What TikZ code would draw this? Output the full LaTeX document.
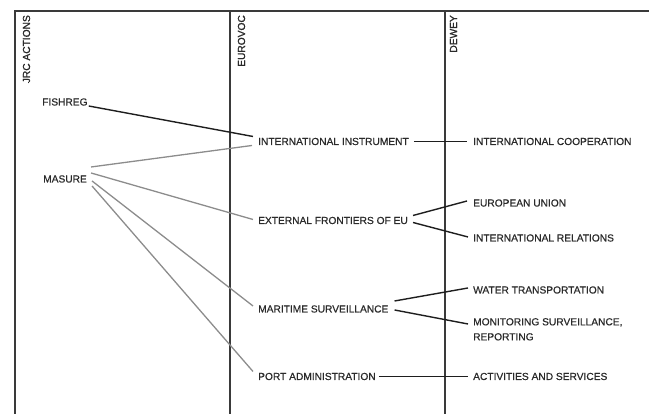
\documentclass[tikz,border=0pt]{standalone}
\usepackage{fontspec}
\setmainfont{Liberation Sans}
\newfontfamily\lblfont[FakeBold=0.6]{Liberation Sans}
\newfontfamily\hdrfont[FakeBold=1.2]{Liberation Sans}
\usetikzlibrary{calc}
\definecolor{framec}{HTML}{3A3A3A}
\definecolor{textc}{HTML}{2A2A2A}
\definecolor{darkline}{HTML}{1E1E1E}
\definecolor{greyline}{HTML}{8C8C8C}
\begin{document}
\begin{tikzpicture}[x=1pt,y=-1pt,
  lbl/.style={font=\lblfont\fontsize{10.2}{15}\selectfont, text=textc, inner sep=0pt, anchor=base west},
  hdr/.style={font=\hdrfont\fontsize{10.2}{12}\selectfont, text=textc, inner sep=0pt, rotate=90, anchor=base east},
  frameline/.style={draw=framec, line width=1.8pt},
  darkconn/.style={draw=darkline, line width=1.4pt},
  greyconn/.style={draw=greyline, line width=1.3pt}]
\useasboundingbox (0,0) rectangle (649,414);
% frame and columns
\draw[frameline] (15,414) -- (15,11) -- (649,11);
\draw[frameline] (230,11) -- (230,414);
\draw[frameline] (445,11) -- (445,414);
% headers
\node[hdr] (hjrc) at (30,15) {JRC ACTIONS};
\node[hdr] (heuro) at (245,15) {EUROVOC};
\node[hdr] (hdewey) at (457,15) {DEWEY};
% JRC actions
\node[lbl] (fishreg) at (42,105.5) {FISHREG};
\node[lbl] (masure) at (43,182.5) {MASURE};
% Eurovoc
\node[lbl] (ii) at (258,145) {INTERNATIONAL INSTRUMENT};
\node[lbl] (ef) at (258,224) {EXTERNAL FRONTIERS OF EU};
\node[lbl] (ms) at (258,312.5) {MARITIME SURVEILLANCE};
\node[lbl] (pa) at (258,380) {PORT ADMINISTRATION};
% Dewey
\node[lbl] (ic) at (473,145) {INTERNATIONAL COOPERATION};
\node[lbl] (eu) at (473,206.5) {EUROPEAN UNION};
\node[lbl] (ir) at (473,241.5) {INTERNATIONAL RELATIONS};
\node[lbl] (wt) at (473,293.5) {WATER TRANSPORTATION};
\node[lbl, anchor=north west, align=left] (mon) at (473,318) {MONITORING SURVEILLANCE,\\REPORTING};
\node[lbl] (ac) at (473,380) {ACTIVITIES AND SERVICES};
% JRC -> Eurovoc
\draw[darkconn] ($(fishreg.east)+(1,4)$) -- ($(ii.west)+(-5,-5)$);
\draw[greyconn] ($(masure.east)+(4,-12)$) -- ($(ii.west)+(-6,4)$);
\draw[greyconn] ($(masure.east)+(4,-6)$) -- ($(ef.west)+(-5,-1)$);
\draw[greyconn] ($(masure.east)+(5,2)$) -- ($(ms.west)+(-5,-3)$);
\draw[greyconn] ($(masure.east)+(5,7)$) -- ($(pa.west)+(-5,-5)$);
% Eurovoc -> Dewey
\draw[darkconn] ($(ii.east)+(5,0)$) -- ($(ic.west)+(-6,0)$);
\draw[darkconn] ($(ef.east)+(5,-5)$) -- ($(eu.west)+(-6,-2)$);
\draw[darkconn] ($(ef.east)+(5,2)$) -- ($(ir.west)+(-5,-1)$);
\draw[darkconn] ($(ms.east)+(6,-8)$) -- ($(wt.west)+(-5,-2)$);
\draw[darkconn] ($(ms.east)+(6,1)$) -- ($(mon.north west)+(-5,6)$);
\draw[darkconn] ($(pa.east)+(3,0)$) -- ($(ac.west)+(-5,0)$);
\end{tikzpicture}
\end{document}
